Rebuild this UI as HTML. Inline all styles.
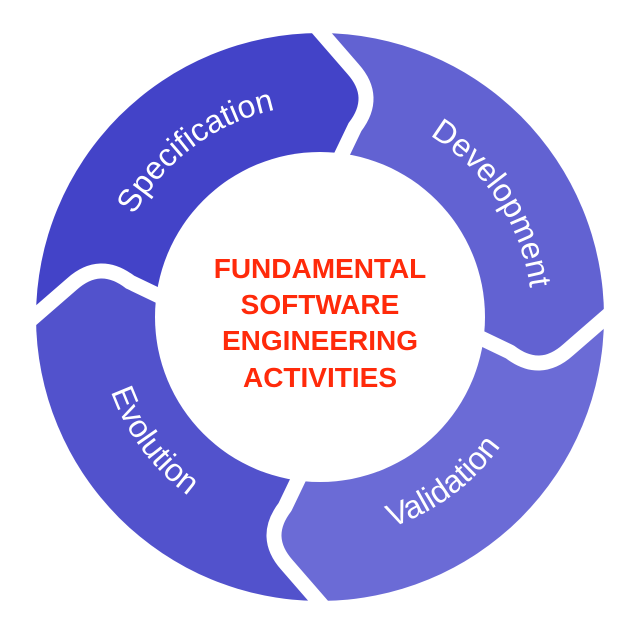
<!DOCTYPE html>
<html><head><meta charset="utf-8"><style>html,body{margin:0;padding:0;background:#fff;width:640px;height:632px;overflow:hidden}svg{display:block}</style></head>
<body>
<svg width="640" height="632" viewBox="0 0 640 632" xmlns="http://www.w3.org/2000/svg">
<defs>
<mask id="ring">
<rect width="640" height="632" fill="#000"/>
<circle cx="320" cy="317" r="284" fill="#fff"/>
<circle cx="320" cy="317" r="165" fill="#000"/>
</mask>
<path id="w" d="M320,317 L335,152 L355,127 Q378,97 353,69 L322,33 L300,8 L300,-80 L720,-80 L720,297 L629,297 L604,319 L573,347 Q540,375 512,353 L485,332 Z"/>
<path id="g" d="M300,8 L353,69 Q378,97 355,127 L320,200"/>
<path id="cw" d="M108,317 A212,212 0 1 1 532,317 A212,212 0 1 1 108,317"/>
<path id="ccw" d="M98,317 A222,222 0 1 0 542,317 A222,222 0 1 0 98,317"/>
</defs>
<g mask="url(#ring)">
<use href="#w" fill="#6262d2"/>
<use href="#w" fill="#6b6bd6" transform="rotate(90 320 317)"/>
<use href="#w" fill="#5252cc" transform="rotate(180 320 317)"/>
<use href="#w" fill="#4343c8" transform="rotate(270 320 317)"/>
</g>
<g fill="none" stroke="#fff" stroke-width="15" stroke-linejoin="round">
<use href="#g"/>
<use href="#g" transform="rotate(90 320 317)"/>
<use href="#g" transform="rotate(180 320 317)"/>
<use href="#g" transform="rotate(270 320 317)"/>
</g>
<g font-family="Liberation Sans, sans-serif" font-size="32" fill="#fff" text-anchor="middle">
<text><textPath href="#cw" startOffset="196.9">Specification</textPath></text>
<text><textPath href="#cw" startOffset="542.4">Development</textPath></text>
<text><textPath href="#ccw" startOffset="490.5">Validation</textPath></text>
<text><textPath href="#ccw" startOffset="141.8">Evolution</textPath></text>
</g>
<g font-family="Liberation Sans, sans-serif" font-size="28" font-weight="bold" fill="#ff2a0a" text-anchor="middle">
<text x="320" y="278">FUNDAMENTAL</text>
<text x="320" y="314">SOFTWARE</text>
<text x="320" y="350">ENGINEERING</text>
<text x="320" y="387">ACTIVITIES</text>
</g>
</svg>
</body></html>
